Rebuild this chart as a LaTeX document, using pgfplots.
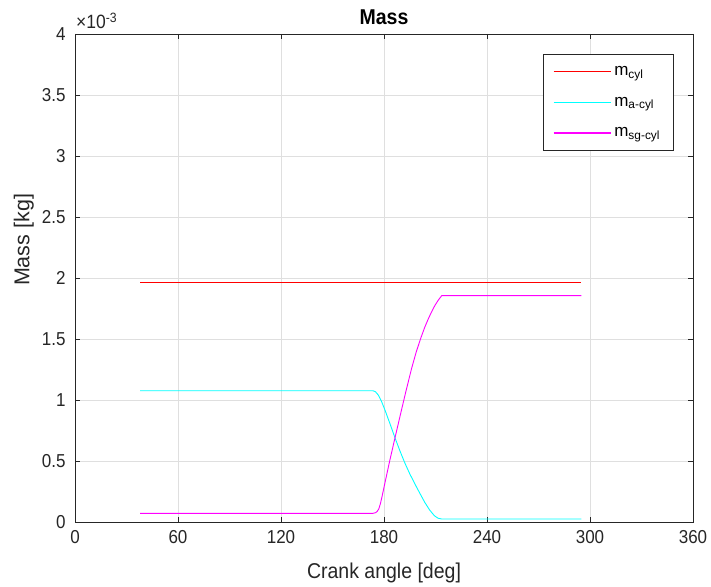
\documentclass[border=0pt]{standalone}
\usepackage{fontspec}
\setmainfont{Liberation Sans}
\usepackage{pgfplots}
\pgfplotsset{compat=1.18}
\definecolor{axgray}{HTML}{262626}
\definecolor{gridgray}{HTML}{DFDFDF}
\definecolor{mred}{RGB}{255,0,0}
\definecolor{mcyan}{RGB}{0,255,255}
\definecolor{mmag}{RGB}{255,0,255}

\begin{document}
\begin{tikzpicture}
\useasboundingbox (0,0) rectangle (711pt,586pt);
\begin{axis}[
  at={(75pt,64pt)}, anchor=south west,
  scale only axis, width=618pt, height=488pt,
  xmin=0, xmax=360, ymin=0, ymax=4,
  xtick={0,60,...,360},
  ytick={0,0.5,...,4},
  clip mode=individual,
  /pgf/number format/assume math mode=true,
  ticklabel style={font=\fontsize{17}{20}\selectfont, text=axgray, yscale=1.1},
  xticklabel style={yshift=-4pt},
  yticklabel style={xshift=-6pt},
  title style={at={(0.5,1)}, anchor=base, yshift=3pt,
    font=\fontsize{19.5}{22}\selectfont\bfseries, yscale=1.1},
  title={Mass},
  xlabel={Crank angle [deg]},
  ylabel={Mass [kg]},
  xlabel style={at={(0.5,0)}, anchor=base, yshift=-56pt,
    font=\fontsize{19.5}{22}\selectfont, text=axgray, yscale=1.1},
  ylabel style={font=\fontsize{21.5}{24}\selectfont, text=axgray,
    at={(rel axis cs:-0.083,0.578)}, anchor=center},
  axis line style={axgray, line width=0.6pt},
  tick style={axgray, line width=0.6pt},
  tick align=inside, tick pos=both,
  major tick length=5pt,
  grid=major,
  major grid style={gridgray, line width=0.6pt},
  legend style={at={(0.757,0.959)}, anchor=north west, draw=axgray,
    line width=0.6pt, font=\fontsize{17}{20}\selectfont,
    inner xsep=10pt, inner ysep=10pt, row sep=16pt,
    nodes={inner sep=2pt, inner xsep=3pt}},
  legend cell align=left,
  legend image code/.code={\draw[#1, line width=1.2pt] (0pt,0pt) -- (57pt,0pt);},
  every axis plot/.append style={line width=0.9pt},
]
\addplot[color=mred] coordinates {(38,1.965) (295,1.965)};
\addlegendentry{m\textsubscript{cyl}}
\addplot[color=mcyan] coordinates {
 (38,1.076) (173.5,1.076) (175,1.068) (176.7,1.04) (178.5,0.99)
 (180.5,0.92) (183.5,0.805) (186.4,0.69) (189.3,0.582) (192.2,0.482)
 (195,0.395) (198,0.312) (201,0.232) (203.8,0.16) (206.5,0.10)
 (209.3,0.052) (211.5,0.031) (213.4,0.025) (295,0.025)};
\addlegendentry{m\textsubscript{a-cyl}}
\addplot[color=mmag] coordinates {
 (38,0.071) (173.5,0.071) (175,0.076) (176,0.086) (177,0.108) (178,0.155)
 (179,0.218) (180,0.285) (183.3,0.5) (186.4,0.69) (190.3,0.925) (193,1.085)
 (196.1,1.26) (198.8,1.395) (201.5,1.51) (203.7,1.595) (205.8,1.665)
 (207.8,1.725) (209.7,1.776) (211.7,1.82) (213.6,1.855) (295,1.855)};
\addlegendentry{m\textsubscript{sg-cyl}}
\node[anchor=base west, inner sep=0pt, text=axgray,
  font=\fontsize{17.5}{20}\selectfont] at (rel axis cs:0,1) [yshift=5pt, xshift=1pt, yscale=1.1]
  {×10\textsuperscript{-3}};
\end{axis}
\end{tikzpicture}
\end{document}
